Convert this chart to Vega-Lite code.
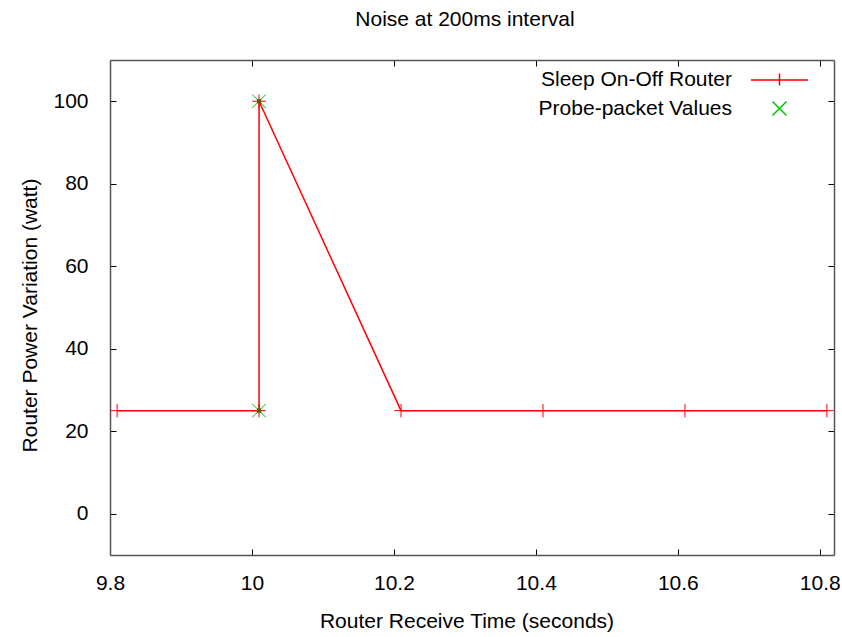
{
  "$schema": "https://vega.github.io/schema/vega-lite/v6.json",
  "width": 724,
  "height": 495,
  "autosize": "none",
  "padding": {"left": 110, "top": 60, "right": 8, "bottom": 82},
  "background": "white",
  "config": {
    "view": {"stroke": null},
    "font": "Liberation Sans",
    "axis": {
      "grid": false,
      "domainColor": "#555555",
      "domainWidth": 1.5,
      "tickColor": "#000000",
      "tickWidth": 1,
      "tickSize": -6,
      "labelFont": "Liberation Sans",
      "labelFontSize": 21,
      "labelColor": "#000000",
      "labelFlush": false,
      "labelOverlap": false,
      "titleFont": "Liberation Sans",
      "titleFontSize": 21,
      "titleFontWeight": "normal",
      "titleColor": "#000000"
    }
  },
  "title": {
    "text": "Noise at 200ms interval",
    "font": "Liberation Sans",
    "fontSize": 21,
    "fontWeight": "normal",
    "color": "#000000",
    "anchor": "middle",
    "frame": "group",
    "dx": -7,
    "offset": 30
  },
  "datasets": {
    "router": [
      {"t": 9.81, "p": 25, "i": 1, "series": "Sleep On-Off Router"},
      {"t": 10.01, "p": 25, "i": 2, "series": "Sleep On-Off Router"},
      {"t": 10.01, "p": 100, "i": 3, "series": "Sleep On-Off Router"},
      {"t": 10.21, "p": 25, "i": 4, "series": "Sleep On-Off Router"},
      {"t": 10.41, "p": 25, "i": 5, "series": "Sleep On-Off Router"},
      {"t": 10.61, "p": 25, "i": 6, "series": "Sleep On-Off Router"},
      {"t": 10.81, "p": 25, "i": 7, "series": "Sleep On-Off Router"}
    ],
    "probe": [
      {"t": 10.01, "p": 25, "series": "Probe-packet Values"},
      {"t": 10.01, "p": 100, "series": "Probe-packet Values"}
    ]
  },
  "resolve": {"axis": {"x": "independent", "y": "independent"}},
  "layer": [
    {
      "data": {"name": "router"},
      "mark": {"type": "line", "color": "#ff0000", "strokeWidth": 1.5},
      "encoding": {
        "x": {
          "field": "t", "type": "quantitative",
          "scale": {"domain": [9.8, 10.82], "nice": false, "zero": false},
          "axis": {
            "orient": "bottom",
            "values": [9.8, 10, 10.2, 10.4, 10.6, 10.8],
            "format": "~g",
            "labelPadding": 23,
            "title": "Router Receive Time (seconds)",
            "titleX": 356.5,
            "titleY": 72,
            "titleAlign": "center",
            "titleBaseline": "alphabetic"
          }
        },
        "y": {
          "field": "p", "type": "quantitative",
          "scale": {"domain": [-10, 110], "nice": false, "zero": false},
          "axis": {
            "orient": "left",
            "values": [0, 20, 40, 60, 80, 100],
            "labelPadding": 28,
            "title": "Router Power Variation (watt)",
            "titleAngle": 270,
            "titleX": -74,
            "titleY": 255,
            "titleAlign": "center",
            "titleBaseline": "alphabetic"
          }
        },
        "order": {"field": "i", "type": "quantitative"}
      }
    },
    {
      "data": {"name": "router"},
      "mark": {"type": "point", "filled": false, "strokeWidth": 1, "opacity": 1, "color": "#ff0000", "shape": "M-1,0H1M0,-1V1", "size": 180},
      "encoding": {
        "x": {
          "field": "t", "type": "quantitative",
          "axis": {"orient": "top", "values": [9.8, 10, 10.2, 10.4, 10.6, 10.8], "labels": false, "title": null}
        },
        "y": {
          "field": "p", "type": "quantitative",
          "axis": {"orient": "right", "values": [0, 20, 40, 60, 80, 100], "labels": false, "title": null}
        }
      }
    },
    {
      "data": {"name": "probe"},
      "mark": {"type": "point", "filled": false, "strokeWidth": 1, "opacity": 1, "color": "#00c000", "shape": "M-1,-1L1,1M1,-1L-1,1", "size": 185},
      "encoding": {
        "x": {"field": "t", "type": "quantitative", "axis": null},
        "y": {"field": "p", "type": "quantitative", "axis": null}
      }
    },
    {
      "data": {"name": "probe"},
      "mark": {"type": "point", "filled": true, "shape": "square", "size": 18, "color": "#5a5a00", "opacity": 1},
      "encoding": {
        "x": {"field": "t", "type": "quantitative", "axis": null},
        "y": {"field": "p", "type": "quantitative", "axis": null}
      }
    },
    {
      "data": {"name": "router"},
      "mark": {"type": "point", "filled": false, "strokeWidth": 1.5, "opacity": 0},
      "encoding": {
        "x": {"field": "t", "type": "quantitative", "axis": null},
        "y": {"field": "p", "type": "quantitative", "axis": null},
        "color": {
          "field": "series", "type": "nominal",
          "scale": {"domain": ["Sleep On-Off Router", "Probe-packet Values"], "range": ["#ff0000", "#00c000"]},
          "legend": {
            "orient": "none",
            "legendX": 659,
            "legendY": 9,
            "title": null,
            "padding": 0,
            "labelAlign": "right",
            "labelOffset": -58,
            "labelFont": "Liberation Sans",
            "labelFontSize": 21,
            "labelColor": "#000000",
            "labelLimit": 400,
            "symbolSize": 100,
            "symbolStrokeWidth": 1.5,
            "symbolOpacity": 1,
            "symbolFillColor": "transparent",
            "rowPadding": 7
          }
        },
        "shape": {
          "field": "series", "type": "nominal",
          "scale": {"domain": ["Sleep On-Off Router", "Probe-packet Values"], "range": ["M-5.7,0.1H5.7M0,-1.2V1.2", "M-1.4,-1.4L1.4,1.4M1.4,-1.4L-1.4,1.4"]}
        }
      }
    }
  ]
}
